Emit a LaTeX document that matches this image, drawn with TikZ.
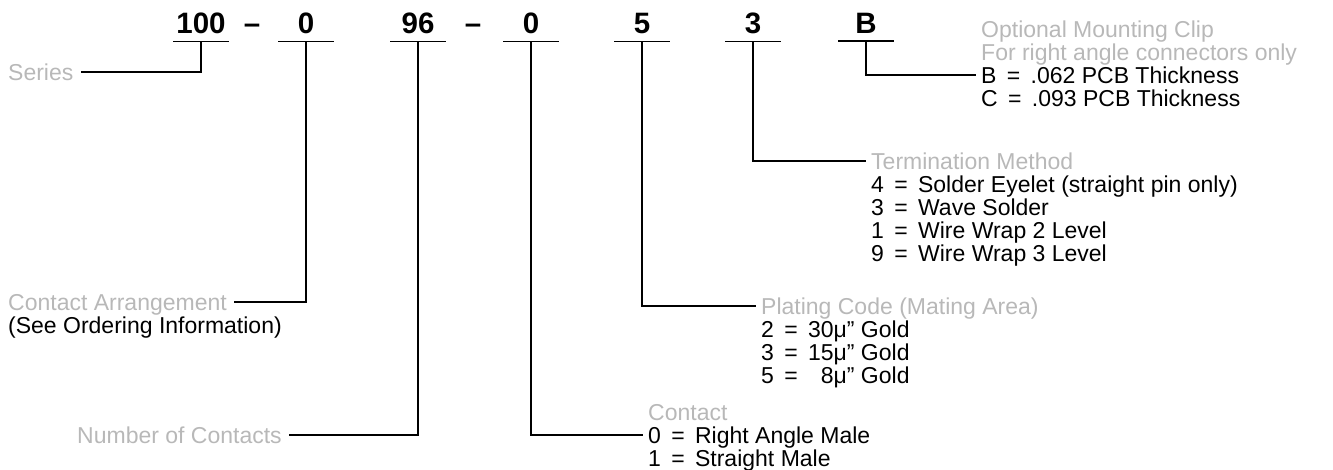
\documentclass[tikz,border=0pt]{standalone}
\usepackage{fontspec}
\setmainfont{Liberation Sans}
\newcommand\eq{\hspace{0.45em}=\hspace{0.45em}}
\tikzset{
  digit/.style={font=\fontsize{29.5}{30}\selectfont\bfseries, anchor=base, inner ysep=8pt, inner xsep=0pt, minimum width=55pt},
  uline/.style={line width=1.8pt},
  conn/.style={line width=1.5pt},
  lbl/.style={font=\fontsize{23}{25}\selectfont, anchor=west, inner xsep=7pt, inner ysep=0pt, text height=16.5pt, text depth=0pt},
  opt/.style={lbl, inner xsep=5pt},
  faint/.style={text=black!28}
}
\begin{document}
\begin{tikzpicture}[x=1pt,y=-1pt]
    \useasboundingbox (0,0) rectangle (1333,469);
    % part number
    \foreach \x/\t/\n in {201/100/dsr, 306/0/dca, 418/96/dnc, 531/0/dct, 642/5/dpl, 753/3/dtm, 866/B/dmc}{
        \node[digit] (\n) at (\x,33) {\t};
        \draw[uline] (\n.south west) -- (\n.south east);
    }
    \node[digit, minimum width=0pt] (sep1) at (252,33) {–};
    \node[digit, minimum width=0pt] (sep2) at (473,33) {–};
    % left labels
    \node[lbl, faint] (series) at (1,72) {Series};
    \node[lbl, faint] (cahead) at (1,302) {Contact Arrangement};
    \node[lbl] (casub) at (1,325) {(See Ordering Information)};
    \node[lbl, faint] (nc) at (70,435) {Number of Contacts};
    % mounting clip
    \node[opt, faint] (mchead) at (976,29) {Optional Mounting Clip};
    \node[opt, faint] (mcsub) at (976,52) {For right angle connectors only};
    \foreach \t [count=\i] in {B\eq .062 PCB Thickness, C\eq .093 PCB Thickness}
        \node[opt] (mc\i) at (976,{52+23*\i}) {\t};
    % termination
    \node[opt, faint] (tmhead) at (866,161) {Termination Method};
    \foreach \t [count=\i] in {4\eq Solder Eyelet (straight pin only), 3\eq Wave Solder, 1\eq Wire Wrap 2 Level, 9\eq Wire Wrap 3 Level}
        \node[opt] (tm\i) at (866,{161+23*\i}) {\t};
    % plating
    \node[opt, faint] (plhead) at (756,306) {Plating Code (Mating Area)};
    \foreach \t [count=\i] in {2\eq 30μ” Gold, 3\eq 15μ” Gold, 5\eq \phantom{1}8μ” Gold}
        \node[opt] (pl\i) at (756,{306+23*\i}) {\t};
    % contact
    \node[opt, faint] (cthead) at (643,412) {Contact};
    \foreach \t [count=\i] in {0\eq Right Angle Male, 1\eq Straight Male}
        \node[opt] (ct\i) at (643,{412+23*\i}) {\t};
    % connectors
    \draw[conn] (dsr.south) |- (series.east);
    \draw[conn] (dca.south) |- (cahead.east);
    \draw[conn] (dnc.south) |- (nc.east);
    \draw[conn] (dct.south) |- (ct1.west);
    \draw[conn] (dpl.south) |- (plhead.west);
    \draw[conn] (dtm.south) |- (tmhead.west);
    \draw[conn] (dmc.south) |- (mc1.west);
\end{tikzpicture}
\end{document}
